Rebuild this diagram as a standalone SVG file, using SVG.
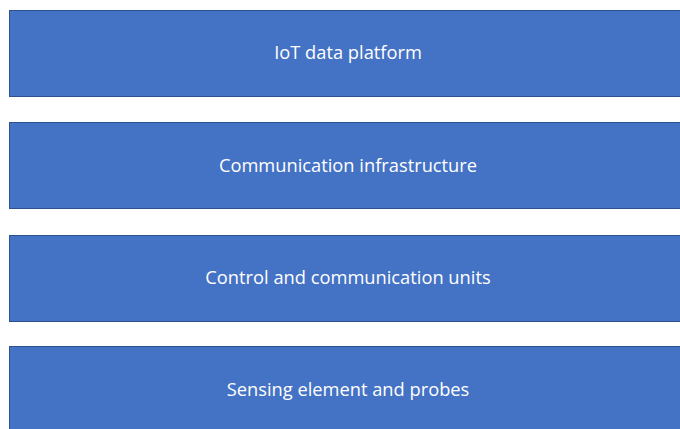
<svg xmlns="http://www.w3.org/2000/svg" width="680" height="429" viewBox="0 0 680 429">
<style>
.box{fill:#4472C4;stroke:#2F528F;stroke-width:1}
.lbl{fill:#FFFFFF;font-family:"Open Sans","Liberation Sans",sans-serif;font-size:18.3px;text-anchor:middle}
</style>
<rect width="680" height="429" fill="#FFFFFF"/>
<g id="iot-platform"><rect class="box" x="9.5" y="10.5" width="680" height="86"/><text class="lbl" x="348" y="59">IoT data platform</text></g>
<g id="comm-infra"><rect class="box" x="9.5" y="122.5" width="680" height="86"/><text class="lbl" x="348" y="172">Communication infrastructure</text></g>
<g id="control-units"><rect class="box" x="9.5" y="235.5" width="680" height="86"/><text class="lbl" x="348" y="284">Control and communication units</text></g>
<g id="sensing"><rect class="box" x="9.5" y="346.5" width="680" height="86"/><text class="lbl" x="348" y="396">Sensing element and probes</text></g>
<g id="connectors"/>
</svg>
